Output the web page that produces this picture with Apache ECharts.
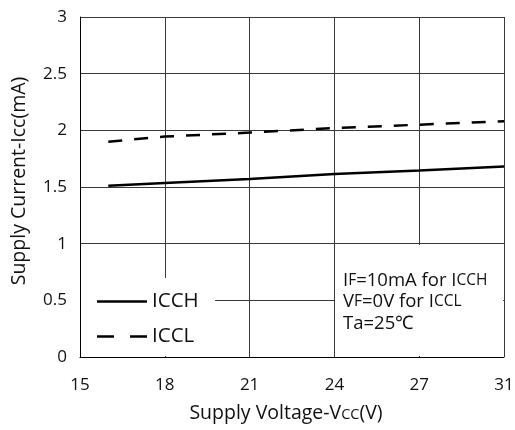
<!DOCTYPE html>
<html>
<head>
<meta charset="utf-8">
<script src="https://cdn.jsdelivr.net/npm/echarts@6/dist/echarts.min.js"></script>
<style>
  html, body { margin: 0; padding: 0; background: #fff; }
  #chart { width: 515px; height: 430px; }
</style>
</head>
<body>
<div id="chart"></div>
<script>
// Supply voltage (V) at which the currents were measured
const supplyVoltage = [16, 18, 21, 24, 27, 31];
// Supply current ICCH (mA), IF = 10 mA
const icch = [1.51, 1.535, 1.57, 1.615, 1.645, 1.68];
// Supply current ICCL (mA), VF = 0 V
const iccl = [1.90, 1.945, 1.98, 2.02, 2.05, 2.08];
// Tick labels on the voltage axis (evenly spaced; last step is 27 -> 31)
const xTickLabels = ['15', '18', '21', '24', '27', '31'];
const yTicks = [0, 0.5, 1, 1.5, 2, 2.5, 3];

// The voltage axis is evenly spaced by tick index; map a voltage to that scale.
const xTickValues = xTickLabels.map(Number);
function toAxis(v) {
  for (let i = 0; i < xTickValues.length - 1; i++) {
    const a = xTickValues[i], b = xTickValues[i + 1];
    if (v <= b || i === xTickValues.length - 2) {
      return i + (v - a) / (b - a);
    }
  }
  return 0;
}

const FONT = 'Open Sans';
const chart = echarts.init(document.getElementById('chart'), null, { renderer: 'canvas' });

chart.setOption({
  animation: false,
  backgroundColor: '#fff',
  textStyle: { fontFamily: FONT },
  grid: { left: 80, right: 11, top: 17, bottom: 73, containLabel: false, outerBoundsMode: 'none' },
  xAxis: {
    type: 'value',
    min: 0,
    max: xTickLabels.length - 1,
    interval: 1,
    axisLine: { show: true, lineStyle: { color: '#000', width: 1 } },
    axisTick: { show: false },
    axisLabel: {
      color: '#111', fontSize: 17, fontFamily: FONT, margin: 20,
      formatter: v => xTickLabels[Math.round(v)]
    },
    splitLine: { show: true, lineStyle: { color: '#3a3a3a', width: 1 } },
    name: '{n|Supply Voltage-V}{s|CC}{n|(V)}',
    nameLocation: 'middle',
    nameGap: 46,
    nameTextStyle: {
      padding: [0, 12, 0, 0],
      rich: {
        n: { fontSize: 19.5, fontFamily: FONT, color: '#111' },
        s: { fontSize: 14.5, fontFamily: FONT, color: '#111', padding: [3, 0, 0, 0] }
      }
    }
  },
  yAxis: {
    type: 'value',
    min: yTicks[0],
    max: yTicks[yTicks.length - 1],
    interval: 0.5,
    axisLine: { show: true, lineStyle: { color: '#000', width: 1 } },
    axisTick: { show: false },
    axisLabel: { color: '#111', fontSize: 17, fontFamily: FONT, margin: 13 },
    splitLine: { show: true, lineStyle: { color: '#3a3a3a', width: 1 } },
    name: '{n|Supply Current-Icc(mA)}',
    nameLocation: 'middle',
    nameGap: 51,
    nameRotate: 90,
    nameTextStyle: {
      padding: [0, 0, 0, 12],
      rich: {
        n: { fontSize: 19.5, fontFamily: FONT, color: '#111' }
      }
    }
  },
  graphic: [
    // white panels behind the legend and the condition notes
    { type: 'rect', z: 1, shape: { x: 81, y: 278, width: 134, height: 78 }, style: { fill: '#fff' } },
    { type: 'rect', z: 1, shape: { x: 335, y: 245, width: 168, height: 111 }, style: { fill: '#fff' } },
    {
      type: 'text', z: 5, left: 343, top: 271,
      style: {
        text: '{n|I}{s|F}{n|=10mA for I}{s|CCH}\n{n|V}{s|F}{n|=0V for I}{s|CCL}\n{n|Ta=25℃}',
        rich: {
          n: { fontSize: 18.5, fontFamily: FONT, fill: '#111', lineHeight: 21.5 },
          s: { fontSize: 15.5, fontFamily: FONT, fill: '#111', lineHeight: 21.5 }
        }
      }
    }
  ],
  legend: {
    orient: 'vertical',
    left: 97,
    top: 291,
    itemWidth: 50,
    itemHeight: 14,
    itemGap: 14,
    padding: 0,
    textStyle: { fontSize: 20.5, fontFamily: FONT, color: '#111', padding: [0, 0, 0, 0] },
    data: [
      { name: 'ICCH', icon: 'path://M0,6 L50,6 L50,8.5 L0,8.5 Z', itemStyle: { color: '#000' } },
      { name: 'ICCL', icon: 'path://M0,6 L17,6 L17,8.5 L0,8.5 Z M33,6 L50,6 L50,8.5 L33,8.5 Z', itemStyle: { color: '#000' } }
    ]
  },
  series: [
    {
      name: 'ICCH',
      type: 'line',
      symbol: 'none',
      z: 3,
      lineStyle: { color: '#000', width: 2.5 },
      itemStyle: { color: '#000' },
      data: supplyVoltage.map((v, i) => [toAxis(v), icch[i]])
    },
    {
      name: 'ICCL',
      type: 'line',
      symbol: 'none',
      z: 3,
      lineStyle: { color: '#000', width: 2.5, type: [14, 12] },
      itemStyle: { color: '#000' },
      data: supplyVoltage.map((v, i) => [toAxis(v), iccl[i]])
    }
  ]
});
</script>
</body>
</html>
